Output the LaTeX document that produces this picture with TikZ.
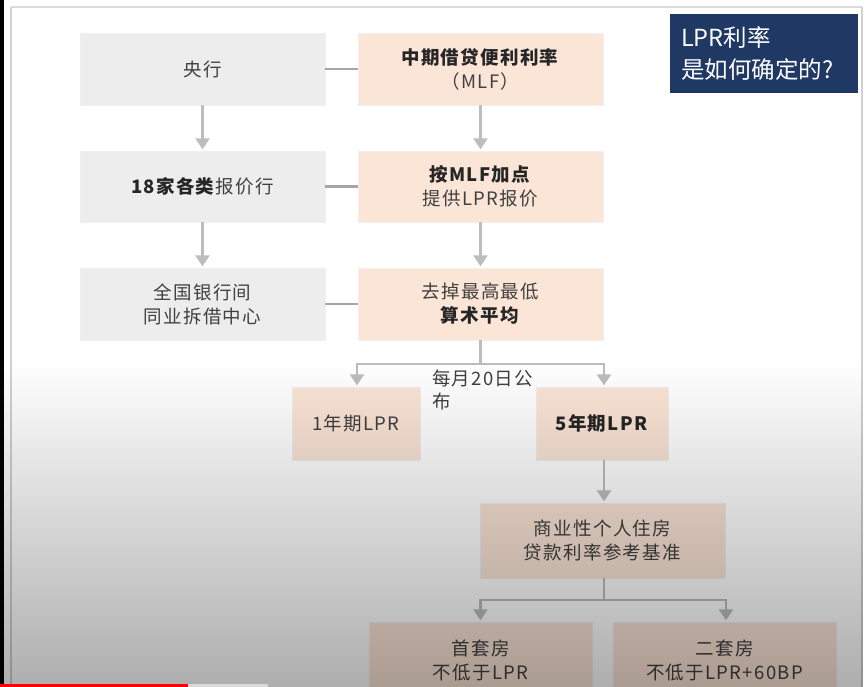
\documentclass[tikz,border=0pt]{standalone}
\usepackage{fontspec}
\setmainfont{Noto Sans CJK SC}[LetterSpace=7]
\newfontfamily\titlefont{Noto Sans CJK SC}
\usetikzlibrary{arrows.meta,fadings}
\definecolor{peach}{HTML}{FBE5D6}
\definecolor{lgray}{HTML}{EDEDED}
\definecolor{navy}{HTML}{1F3864}
\definecolor{arr}{HTML}{BDBDBD}
\definecolor{conn}{HTML}{A6A6A6}
\definecolor{txt}{HTML}{404040}
\tikzfading[name=fadedown, top color=transparent!100, bottom color=transparent!68]
\begin{document}
\begin{tikzpicture}[x=1pt,y=-1pt,
  box/.style={rectangle, inner sep=0pt, align=center, text=txt,
     font=\fontsize{18.5}{24}\selectfont, draw=black!6, line width=0.4pt},
  graybox/.style={box, fill=lgray},
  peachbox/.style={box, fill=peach},
  arrowline/.style={draw=arr, line width=2.6pt, -{Triangle[width=14pt,length=11pt]}, shorten >=1.5pt},
  plainline/.style={draw=arr, line width=2.6pt},
  linkline/.style={draw=conn, line width=2.8pt}]
\useasboundingbox (0,0) rectangle (865,687);
\clip (0,0) rectangle (865,687);
\fill[white] (0,0) rectangle (865,687);
% frame
\draw[black!14, line width=1.2pt] (11,7) -- (862,7);
\draw[black!18, line width=2pt] (11,7) -- (11,687);
\draw[black!18, line width=1.5pt] (862,7) -- (862,687);
% boxes
\node[graybox, minimum width=245pt, minimum height=72pt] (yh) at (202.5,69) {央行};
\node[peachbox, minimum width=245pt, minimum height=72pt] (mlf) at (480.5,69) {\textcolor{black!85}{\textbf{中期借贷便利利率}}\\（MLF）};
\node[graybox, minimum width=245pt, minimum height=71pt] (bj) at (202.5,186.5) {\textcolor{black!85}{\textbf{18家各类}}报价行};
\node[peachbox, minimum width=245pt, minimum height=71pt] (jd) at (480.5,186.5) {\textcolor{black!85}{\textbf{按MLF加点}}\\提供LPR报价};
\node[graybox, minimum width=245pt, minimum height=72pt] (qg) at (202.5,304) {全国银行间\\同业拆借中心};
\node[peachbox, minimum width=245pt, minimum height=72pt] (qd) at (480.5,304) {去掉最高最低\\\textcolor{black!85}{\textbf{算术平均}}};
\node[peachbox, minimum width=128pt, minimum height=73pt] (y1) at (356,423.5) {1年期LPR};
\node[peachbox, minimum width=132pt, minimum height=73pt] (y5) at (602,423.5) {\textcolor{black!85}{\textbf{5年期LPR}}};
\node[peachbox, minimum width=245pt, minimum height=75pt] (sy) at (602.5,540.5) {商业性个人住房\\贷款利率参考基准};
\node[peachbox, minimum width=223pt, minimum height=76pt] (st) at (480.5,660) {首套房\\不低于LPR};
\node[peachbox, minimum width=223pt, minimum height=76pt] (et) at (724.5,660) {二套房\\不低于LPR+60BP};
% title box
\node[fill=navy, minimum width=188pt, minimum height=79pt, inner sep=0pt] (tt) at (764,53.5) {};
\node[anchor=west, text=white, align=left, inner sep=0pt, font=\titlefont\fontsize{23.5}{32}\selectfont] (ttx) at (681,54) {LPR利率\\是如何确定的?};
% horizontal links
\draw[linkline] (yh.east) -- (mlf.west);
\draw[linkline] (bj.east) -- (jd.west);
\draw[linkline] (qg.east) -- (qd.west);
% vertical arrows
\draw[arrowline] (yh.south) -- (bj.north);
\draw[arrowline] (mlf.south) -- (jd.north);
\draw[arrowline] (bj.south) -- (qg.north);
\draw[arrowline] (jd.south) -- (qd.north);
% split to 1y / 5y
\coordinate (s1) at (480.5,364);
\draw[plainline] (qd.south) -- (s1);
\draw[plainline, line cap=rect] (357,364) -- (604,364);
\draw[arrowline] (357,364) -- (y1.north -| 357,0);
\draw[arrowline] (604,364) -- (y5.north -| 604,0);
\node[anchor=north west, align=left, inner sep=0pt, text=txt, font=\fontsize{18.5}{23}\selectfont] (pub) at (432,370) {每月20日公\\布};
\draw[arrowline] (y5.south -| 604,0) -- (sy.north -| 604,0);
% split to houses
\coordinate (s2) at (604,600);
\draw[plainline] (sy.south -| 604,0) -- (s2);
\draw[plainline, line cap=rect] (480.5,600) -- (726,600);
\draw[arrowline] (480.5,600) -- (st.north);
\draw[arrowline] (726,600) -- (et.north -| 726,0);
% darkening overlay
\fill[black, path fading=fadedown] (0,360) rectangle (865,687);
% left black stripe and progress bar
\fill[black] (0,0) rectangle (3.5,687);
\fill[red] (0,683.5) rectangle (188,687);
\fill[black!15] (188,683.5) rectangle (268,687);
\end{tikzpicture}
\end{document}
